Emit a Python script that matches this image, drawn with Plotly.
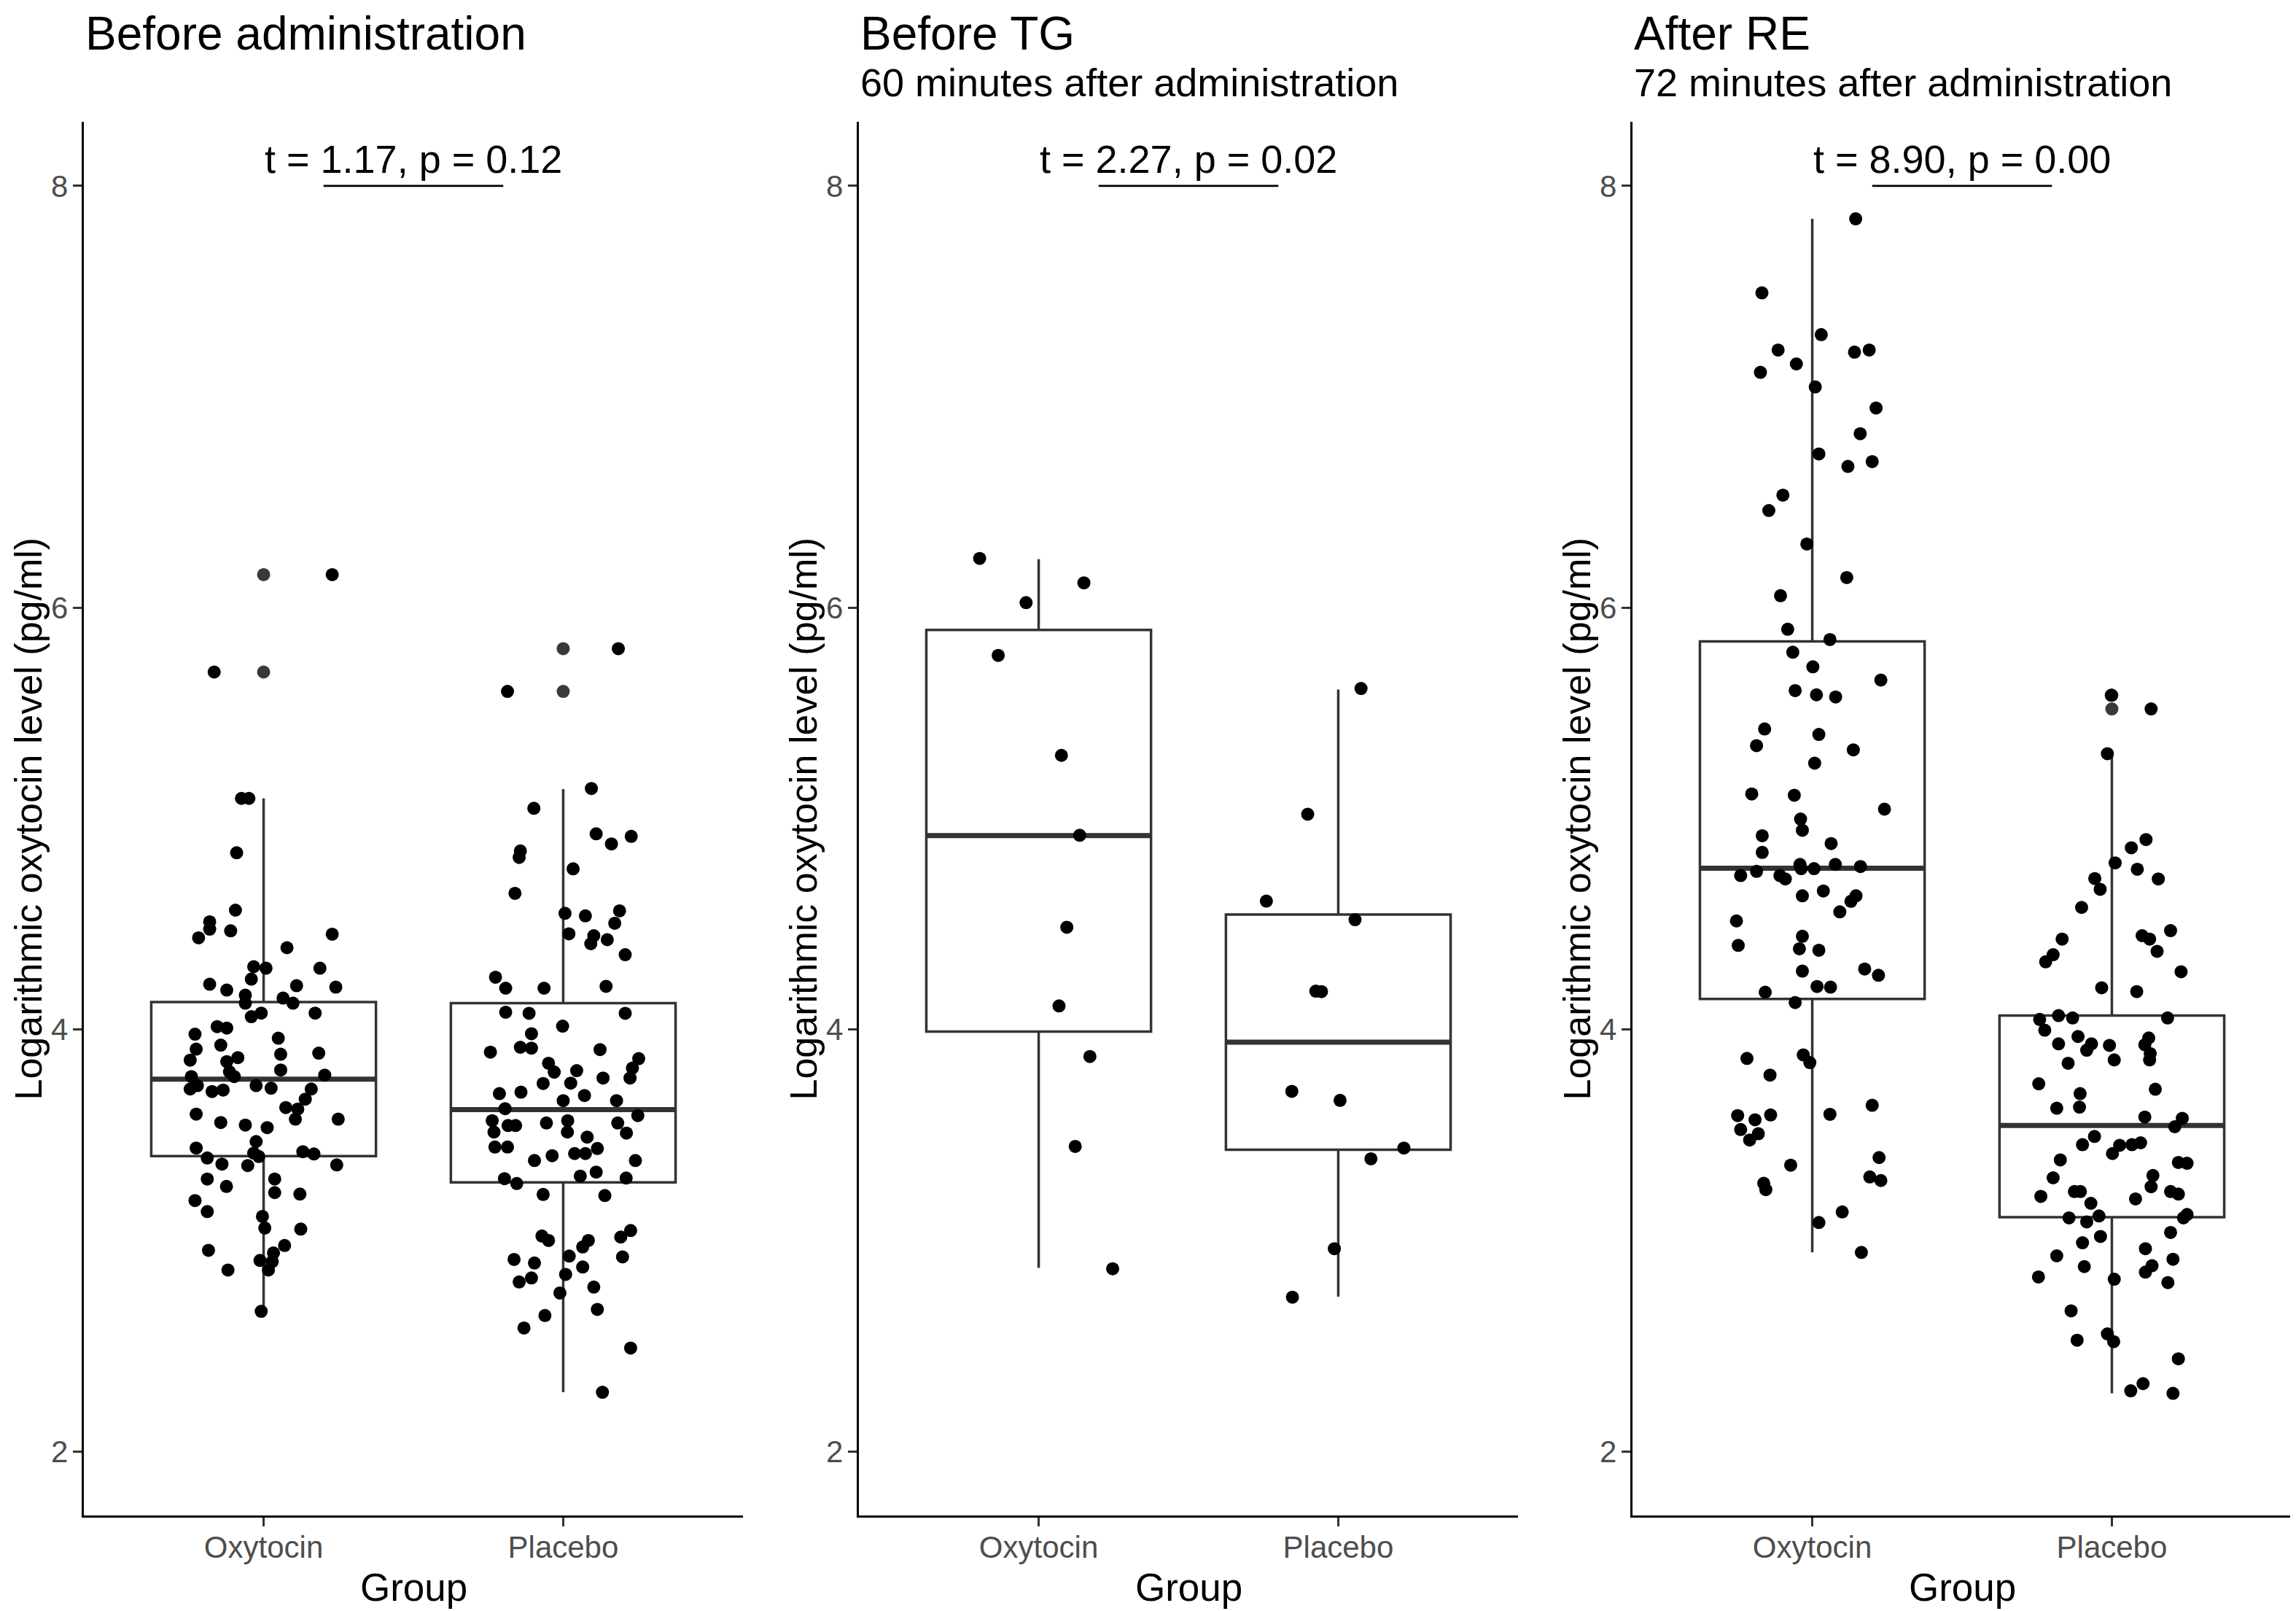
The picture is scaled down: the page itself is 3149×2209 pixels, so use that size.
import plotly.graph_objects as go

# ---- data ----
groups = ["Oxytocin", "Placebo"]
group_pos = [1, 2]
panel_titles = ["Before administration", "Before TG", "After RE"]
panel_subtitles = ["", "60 minutes after administration", "72 minutes after administration"]
test_labels = ["t = 1.17, p = 0.12", "t = 2.27, p = 0.02", "t = 8.90, p = 0.00"]
y_ticks = [2, 4, 6, 8]

# box statistics per panel: [oxytocin, placebo]
box_q1 = [[3.40, 3.275], [3.99, 3.43], [4.145, 3.11]]
box_median = [[3.765, 3.62], [4.92, 3.94], [4.765, 3.545]]
box_q3 = [[4.13, 4.125], [5.895, 4.545], [5.84, 4.066]]
box_low = [[2.664, 2.28], [2.87, 2.733], [2.943, 2.275]]
box_high = [[5.096, 5.14], [6.23, 5.612], [7.844, 5.308]]

# outliers drawn by the boxplot (at group centre)
pre_oxy_out = [6.157, 5.695]
pre_pla_out = [5.806, 5.603]
tg_oxy_out = []
tg_pla_out = []
re_oxy_out = []
re_pla_out = [5.585, 5.52]

# jittered points: values and horizontal jitter (in group units)
pre_oxy_y = [6.157, 5.695, 5.096, 5.096, 4.838, 4.566, 4.511, 4.476, 4.435, 4.468, 4.452, 4.388,
             4.298, 4.291, 4.291, 4.239, 4.215, 4.187, 4.208, 4.201, 4.163, 4.149, 4.125, 4.125,
             4.078, 4.061, 4.078, 4.014, 4.007, 3.978, 3.959, 3.926, 3.907, 3.855, 3.867, 3.883,
             3.888, 3.848, 3.808, 3.80, 3.777, 3.777, 3.784, 3.718, 3.734, 3.706, 3.713, 3.734,
             3.722, 3.718, 3.67, 3.63, 3.623, 3.599, 3.575, 3.575, 3.559, 3.547, 3.535, 3.469,
             3.438, 3.414, 3.398, 3.421, 3.41, 3.391, 3.362, 3.355, 3.358, 3.291, 3.291, 3.256,
             3.227, 3.22, 3.189, 3.137, 3.114, 3.059, 3.054, 2.953, 2.976, 2.941, 2.905, 2.90,
             2.86, 2.86, 2.664]
pre_oxy_dx = [0.229, -0.165, -0.074, -0.049, -0.09, -0.094, -0.18, -0.18, -0.217, -0.11, 0.229, 0.078,
              -0.033, 0.008, 0.188, -0.041, -0.18, -0.123, 0.11, 0.241, -0.061, 0.065, -0.061, 0.098,
              -0.008, -0.041, 0.172, -0.155, -0.123, -0.229, 0.049, -0.143, -0.225, -0.245, -0.086, 0.057,
              0.184, -0.123, 0.057, -0.114, -0.098, -0.241, 0.204, -0.245, -0.221, -0.172, -0.135, -0.025,
              0.025, 0.159, 0.139, 0.074, 0.114, -0.225, 0.106, 0.249, -0.143, -0.061, 0.012, -0.025,
              -0.225, -0.033, -0.016, 0.131, 0.168, -0.188, -0.139, -0.053, 0.244, -0.188, 0.037, -0.124,
              0.037, 0.121, -0.229, -0.188, -0.004, 0.004, 0.124, -0.184, 0.07, 0.033, -0.012, 0.029,
              -0.119, 0.016, -0.008]

pre_pla_y = [5.806, 5.603, 5.143, 5.049, 4.928, 4.88, 4.916, 4.847, 4.816, 4.762, 4.646, 4.551,
             4.539, 4.563, 4.504, 4.454, 4.445, 4.407, 4.426, 4.355, 4.248, 4.196, 4.196, 4.205,
             4.082, 4.077, 4.077, 4.016, 3.98, 3.893, 3.916, 3.912, 3.905, 3.84, 3.862, 3.798,
             3.805, 3.817, 3.77, 3.77, 3.744, 3.746, 3.696, 3.703, 3.687, 3.663, 3.663, 3.625,
             3.568, 3.545, 3.545, 3.557, 3.568, 3.557, 3.592, 3.514, 3.514, 3.509, 3.49, 3.443,
             3.443, 3.436, 3.402, 3.412, 3.412, 3.379, 3.379, 3.324, 3.305, 3.293, 3.27, 3.296,
             3.218, 3.213, 3.047, 3.021, 3.0, 3.0, 3.016, 2.969, 2.926, 2.91, 2.893, 2.922,
             2.874, 2.839, 2.803, 2.822, 2.751, 2.779, 2.644, 2.673, 2.585, 2.49, 2.28]
pre_pla_dx = [0.184, -0.186, 0.094, -0.098, 0.11, 0.161, 0.227, -0.143, -0.147, 0.033, -0.161, 0.006,
              0.074, 0.188, 0.172, 0.019, 0.102, 0.092, 0.147, 0.207, -0.226, -0.192, -0.064, 0.143,
              -0.192, -0.114, 0.207, -0.002, -0.106, -0.243, -0.143, -0.106, 0.123, -0.049, 0.252, -0.03,
              0.045, 0.231, 0.133, 0.223, -0.067, 0.025, -0.213, -0.141, 0.071, 0.0, 0.178, -0.194,
              -0.237, -0.184, -0.159, -0.056, 0.015, 0.182, 0.249, -0.231, 0.014, 0.211, 0.08, -0.228,
              -0.186, 0.114, -0.037, 0.038, 0.074, -0.096, 0.241, 0.11, 0.057, -0.196, -0.155, 0.21,
              -0.067, 0.139, 0.225, -0.071, -0.049, 0.084, 0.192, 0.065, 0.02, -0.164, -0.096, 0.198,
              0.065, 0.008, -0.147, -0.106, -0.011, 0.102, -0.061, 0.114, -0.131, 0.225, 0.131]

tg_oxy_y = [6.234, 6.024, 6.118, 5.774, 5.30, 4.921, 4.485, 4.112, 3.872, 3.446, 2.866]
tg_oxy_dx = [-0.197, -0.042, 0.151, -0.135, 0.076, 0.137, 0.094, 0.068, 0.171, 0.122, 0.247]

tg_pla_y = [5.617, 5.021, 4.609, 4.521, 4.182, 4.18, 3.707, 3.664, 3.438, 3.387, 2.961, 2.731]
tg_pla_dx = [0.076, -0.102, -0.24, 0.056, -0.075, -0.056, -0.155, 0.006, 0.219, 0.109, -0.013, -0.153]

re_oxy_y = [7.844, 7.493, 7.295, 7.222, 7.156, 7.116, 7.212, 7.222, 7.047, 6.947, 6.825, 6.729,
            6.67, 6.693, 6.534, 6.461, 6.302, 6.143, 6.057, 5.898, 5.849, 5.789, 5.72, 5.657,
            5.607, 5.587, 5.577, 5.425, 5.399, 5.346, 5.326, 5.263, 5.117, 5.111, 5.045, 4.998,
            4.945, 4.919, 4.882, 4.84, 4.783, 4.763, 4.763, 4.783, 4.773, 4.75, 4.73, 4.73,
            4.714, 4.657, 4.634, 4.634, 4.608, 4.558, 4.515, 4.442, 4.399, 4.383, 4.376, 4.277,
            4.287, 4.257, 4.177, 4.204, 4.201, 4.128, 3.863, 3.88, 3.843, 3.784, 3.592, 3.572,
            3.595, 3.598, 3.641, 3.526, 3.506, 3.476, 3.357, 3.393, 3.301, 3.284, 3.271, 3.241,
            3.085, 3.135, 2.943]
re_oxy_dx = [0.145, -0.168, 0.03, -0.114, -0.053, -0.173, 0.141, 0.19, 0.01, 0.213, 0.16, 0.022,
             0.119, 0.2, -0.098, -0.145, -0.018, 0.115, -0.106, -0.082, 0.059, -0.065, 0.002, 0.229,
             -0.057, 0.014, 0.078, -0.159, 0.022, -0.186, 0.137, 0.008, -0.202, -0.06, 0.241, -0.039,
             -0.033, -0.167, 0.063, -0.167, -0.041, -0.037, 0.006, 0.077, 0.161, -0.186, -0.239, -0.108,
             -0.09, 0.037, -0.033, 0.146, 0.129, 0.092, -0.253, -0.033, -0.247, -0.043, 0.022, -0.033,
             0.175, 0.221, -0.157, 0.016, 0.061, -0.057, -0.218, -0.03, -0.008, -0.141, -0.249, -0.191,
             -0.139, 0.059, 0.2, -0.239, -0.18, -0.209, -0.072, 0.223, 0.192, 0.229, -0.162, -0.155,
             0.022, 0.1, 0.164]

re_pla_y = [5.585, 5.52, 5.308, 4.901, 4.862, 4.79, 4.76, 4.716, 4.714, 4.665, 4.579, 4.429,
            4.355, 4.321, 4.445, 4.429, 4.469, 4.371, 4.274, 4.198, 4.18, 4.048, 4.066, 4.055,
            4.055, 3.997, 3.967, 3.932, 3.932, 3.902, 3.925, 3.96, 3.928, 3.856, 3.886, 3.856,
            3.84, 3.743, 3.717, 3.696, 3.627, 3.632, 3.585, 3.579, 3.539, 3.493, 3.454, 3.451,
            3.454, 3.463, 3.412, 3.382, 3.37, 3.366, 3.308, 3.297, 3.255, 3.209, 3.232, 3.232,
            3.197, 3.232, 3.22, 3.176, 3.107, 3.088, 3.116, 3.107, 3.123, 3.019, 3.038, 2.989,
            2.927, 2.961, 2.911, 2.876, 2.88, 2.85, 2.827, 2.816, 2.80, 2.666, 2.527, 2.557,
            2.52, 2.439, 2.321, 2.287, 2.275]
re_pla_dx = [-0.002, 0.131, -0.015, 0.114, 0.065, 0.011, 0.085, -0.057, 0.155, -0.039, -0.101, -0.166,
             -0.196, -0.221, 0.101, 0.126, 0.196, 0.151, 0.231, -0.034, 0.083, -0.241, -0.178, -0.131,
             0.186, -0.224, -0.113, -0.178, -0.068, -0.084, -0.008, 0.123, 0.11, 0.008, 0.128, 0.126,
             -0.146, -0.244, 0.145, -0.106, -0.184, -0.108, 0.11, 0.235, 0.21, -0.058, -0.098, 0.026,
             0.067, 0.096, 0.002, -0.172, 0.222, 0.251, 0.137, -0.196, 0.131, -0.237, -0.125, -0.105,
             0.079, 0.196, 0.222, -0.07, -0.143, -0.084, -0.043, 0.239, 0.251, -0.038, 0.196, -0.098,
             -0.184, 0.112, 0.204, -0.092, 0.134, 0.112, -0.245, 0.008, 0.187, -0.136, -0.116, -0.015,
             0.006, 0.222, 0.104, 0.063, 0.204]

points_y = [[pre_oxy_y, pre_pla_y], [tg_oxy_y, tg_pla_y], [re_oxy_y, re_pla_y]]
points_dx = [[pre_oxy_dx, pre_pla_dx], [tg_oxy_dx, tg_pla_dx], [re_oxy_dx, re_pla_dx]]
outliers = [[pre_oxy_out, pre_pla_out], [tg_oxy_out, tg_pla_out], [re_oxy_out, re_pla_out]]

# ---- layout geometry (page pixels of the 3149 x 2209 window) ----
W, H = 3149, 2209
OFF = 8                      # default body margin of the html page
FW, FH = W - OFF, H - OFF    # figure size


def px_x(page_x):
    return (page_x - OFF) / FW


def px_y(page_y):
    return 1 - (page_y - OFF) / FH


panel_left = [115, 1178, 2239]
panel_w = 904
panel_top, panel_bottom = 167, 2078
y_range = [1.696, 8.304]
box_width = 0.75
signif_y = 8.0

FONT = "Liberation Sans, Arial, sans-serif"
DARK = "#333333"

fig = go.Figure()
annotations = []

for p in range(3):
    suffix = "" if p == 0 else str(p + 1)
    xa, ya = "x" + suffix, "y" + suffix

    for g in range(2):
        pos = group_pos[g]
        fig.add_trace(go.Box(
            x=[pos], q1=[box_q1[p][g]], median=[box_median[p][g]], q3=[box_q3[p][g]],
            lowerfence=[box_low[p][g]], upperfence=[box_high[p][g]],
            width=box_width, whiskerwidth=0, boxpoints=False,
            fillcolor="white", line=dict(color=DARK, width=3.5),
            xaxis=xa, yaxis=ya, showlegend=False, hoverinfo="skip"))
        # thick median bar, as ggplot draws it
        fig.add_trace(go.Scatter(
            x=[pos - box_width / 2, pos + box_width / 2],
            y=[box_median[p][g], box_median[p][g]],
            mode="lines", line=dict(color=DARK, width=7),
            xaxis=xa, yaxis=ya, showlegend=False, hoverinfo="skip"))
        if outliers[p][g]:
            fig.add_trace(go.Scatter(
                x=[pos] * len(outliers[p][g]), y=outliers[p][g], mode="markers",
                marker=dict(color="#3a3a3a", size=18, line=dict(width=0)),
                xaxis=xa, yaxis=ya, showlegend=False, hoverinfo="skip"))

    for g in range(2):
        pos = group_pos[g]
        fig.add_trace(go.Scatter(
            x=[pos + d for d in points_dx[p][g]], y=points_y[p][g], mode="markers",
            marker=dict(color="black", size=18, line=dict(width=0)),
            xaxis=xa, yaxis=ya, showlegend=False, hoverinfo="skip"))

    # significance bracket
    fig.add_trace(go.Scatter(
        x=[group_pos[0] + 0.2, group_pos[1] - 0.2], y=[signif_y, signif_y],
        mode="lines", line=dict(color="black", width=2.8),
        xaxis=xa, yaxis=ya, showlegend=False, hoverinfo="skip"))
    annotations.append(dict(
        x=(group_pos[0] + group_pos[1]) / 2, y=8.126, xref=xa, yref=ya,
        text=test_labels[p], showarrow=False, xanchor="center", yanchor="middle",
        font=dict(family=FONT, size=54, color="black")))

    x0 = px_x(panel_left[p])
    x1 = px_x(panel_left[p] + panel_w)
    y0 = px_y(panel_bottom)
    y1 = px_y(panel_top)

    axis_common = dict(
        showline=True, linecolor="black", linewidth=3.3, showgrid=False, zeroline=False,
        ticks="outside", ticklen=12, tickwidth=3, tickcolor=DARK,
        tickfont=dict(family=FONT, size=42, color="#4D4D4D"))
    fig.update_layout(**{
        "xaxis" + suffix: dict(domain=[x0, x1], range=[0.4, 2.6], tickvals=group_pos,
                               ticktext=groups, anchor=ya, ticklabelstandoff=-8,
                               **axis_common),
        "yaxis" + suffix: dict(domain=[y0, y1], range=y_range, tickvals=y_ticks,
                               anchor=xa, ticklabelstandoff=-2, **axis_common),
    })

    # titles
    annotations.append(dict(
        x=x0, y=1, xref="paper", yref="paper",
        text=panel_titles[p], showarrow=False, xanchor="left", yanchor="top",
        font=dict(family=FONT, size=64, color="black")))
    if panel_subtitles[p]:
        annotations.append(dict(
            x=x0, y=px_y(132 - 0.347 * 54), xref="paper", yref="paper",
            text=panel_subtitles[p], showarrow=False, xanchor="left", yanchor="middle",
            font=dict(family=FONT, size=54, color="black")))
    # axis titles
    annotations.append(dict(
        x=(x0 + x1) / 2, y=px_y(2195 - 0.347 * 53), xref="paper", yref="paper",
        text="Group", showarrow=False, xanchor="center", yanchor="middle",
        font=dict(family=FONT, size=53, color="black")))
    annotations.append(dict(
        x=px_x(panel_left[p] - 77), y=(y0 + y1) / 2, xref="paper", yref="paper",
        text="Logarithmic oxytocin level (pg/ml)", textangle=-90, showarrow=False,
        xanchor="center", yanchor="middle",
        font=dict(family=FONT, size=52, color="black")))

fig.update_layout(
    width=FW, height=FH, autosize=False,
    margin=dict(l=0, r=0, t=0, b=0),
    paper_bgcolor="white", plot_bgcolor="white",
    annotations=annotations,
    showlegend=False,
)

fig.write_html("out.html")
